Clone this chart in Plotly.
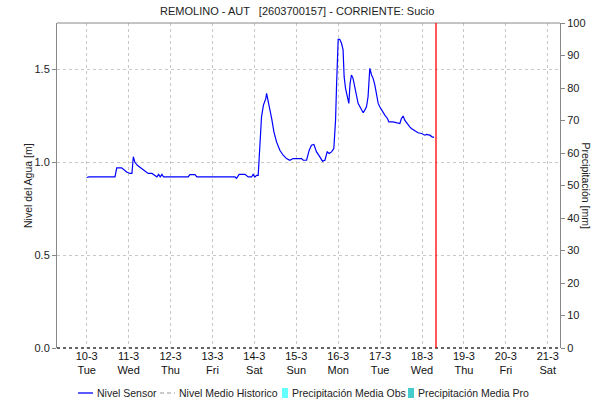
import pandas as pd
import plotly.graph_objects as go

# ---- data ----
title = "REMOLINO - AUT   [2603700157] - CORRIENTE: Sucio"
start = "2020-03-10 00:00"
# hours since 10-3 00:00
sensor_hours = [0, 1.3, 16.2, 17.2, 20, 22.9, 24.8, 25.9, 26.7, 27.6, 29, 31.5, 33.4, 35.2, 37.4,
                39.1, 40.2, 41.2, 42.1, 43.1, 44, 44.8, 58.1, 59.1, 62, 63.1, 84.9, 85.8, 87.3,
                90.6, 91.6, 92.5, 94.4, 95.3, 96.3, 97.3, 98.2, 99.3, 100.1, 101.2, 102.6, 103,
                104.5, 105.9, 107.2, 108.7, 110.6, 112.5, 114.4, 116.3, 118.2, 123, 124, 125.9,
                127.4, 128.7, 130.1, 131.6, 133.5, 135, 136.4, 137.7, 138.8, 140.2, 141.5, 142.5,
                143.1, 143.6, 144, 144.9, 145.9, 146.8, 147.4, 148.2, 149.3, 150.1, 150.8, 151.6,
                152.5, 153.5, 154.5, 155.4, 157, 158.3, 159.2, 160.2, 161.1, 161.5, 162.1, 163.1,
                164, 165, 165.9, 166.9, 167.8, 168.8, 170.7, 172.2, 173, 175.4, 177.4, 179.3,
                180.2, 181.2, 182.1, 183.1, 184, 185, 185.9, 187.9, 189.7, 191.7, 193.6, 194.5,
                196.4, 197.8, 198.9]
sensor_level = [0.918, 0.921, 0.921, 0.97, 0.97, 0.948, 0.94, 0.94, 1.03, 1.0, 0.984, 0.967, 0.957,
                0.94, 0.94, 0.93, 0.921, 0.935, 0.921, 0.935, 0.921, 0.921, 0.921, 0.934, 0.934,
                0.921, 0.921, 0.913, 0.935, 0.935, 0.928, 0.921, 0.921, 0.935, 0.921, 0.93, 0.93,
                1.092, 1.245, 1.308, 1.344, 1.371, 1.308, 1.236, 1.164, 1.11, 1.065, 1.038, 1.02,
                1.011, 1.02, 1.02, 1.011, 1.011, 1.065, 1.092, 1.096, 1.056, 1.029, 1.006, 1.011,
                1.056, 1.047, 1.056, 1.074, 1.227, 1.425, 1.587, 1.662, 1.662, 1.641, 1.605,
                1.461, 1.398, 1.353, 1.317, 1.425, 1.47, 1.452, 1.407, 1.353, 1.317, 1.29, 1.267,
                1.281, 1.299, 1.353, 1.452, 1.506, 1.47, 1.452, 1.416, 1.371, 1.317, 1.299, 1.281,
                1.254, 1.236, 1.218, 1.218, 1.213, 1.209, 1.236, 1.249, 1.227, 1.213, 1.2, 1.191,
                1.182, 1.169, 1.159, 1.155, 1.146, 1.15, 1.146, 1.137, 1.134]
now_hour = 200
range_hours = [-17, 271]
tick_dates = ["2020-03-%02d" % d for d in range(10, 22)]
tick_labels = ["10-3<br>Tue", "11-3<br>Wed", "12-3<br>Thu", "13-3<br>Fri", "14-3<br>Sat",
               "15-3<br>Sun", "16-3<br>Mon", "17-3<br>Tue", "18-3<br>Wed", "19-3<br>Thu",
               "20-3<br>Fri", "21-3<br>Sat"]
left_ticks = [0, 0.5, 1.0, 1.5]
right_ticks = list(range(0, 101, 10))
legend_names = ["Nivel Sensor", "Nivel Medio Historico",
                "Precipitación Media Obs", "Precipitación Media Pro"]
legend_colors = ["#0000FF", "#BBBBBB", "#66FFFF", "#44CCCC"]

t0 = pd.Timestamp(start)
sensor_time = [t0 + pd.Timedelta(hours=h) for h in sensor_hours]
now_time = t0 + pd.Timedelta(hours=now_hour)
xr = [t0 + pd.Timedelta(hours=h) for h in range_hours]

FONT = "Liberation Sans, Arial, sans-serif"
NARROW = "Liberation Sans Narrow, Arial Narrow, Liberation Sans, sans-serif"
W, H = 598, 402
ML, MR, MT, MB = 57, 38, 23, 54
PW, PH = W - ML - MR, H - MT - MB

def px(x):
    return (x - ML) / PW

def py(y):
    return (H - MB - y) / PH

fig = go.Figure()
fig.add_trace(go.Scatter(x=sensor_time, y=sensor_level, mode="lines", name=legend_names[0],
                         line=dict(color=legend_colors[0], width=1.2), showlegend=False))

shapes = [
    dict(type="line", xref="paper", yref="paper", x0=0, x1=1, y0=1, y1=1,
         line=dict(color="#888888", width=1)),
    dict(type="line", xref="paper", yref="paper", x0=0, x1=1, y0=0, y1=0,
         line=dict(color="#333333", width=1.5, dash="dot")),
    dict(type="line", xref="x", yref="paper", x0=now_time, x1=now_time, y0=0, y1=1,
         line=dict(color="#FF0000", width=1.3)),
]
annotations = [
    dict(text="Nivel del Agua [m]", xref="paper", yref="paper", x=px(27.5), y=0.5,
         textangle=-90, showarrow=False, font=dict(size=10.5, color="#222222"),
         xanchor="center", yanchor="middle"),
    dict(text="Precipitación [mm]", xref="paper", yref="paper", x=px(586), y=0.5,
         textangle=90, showarrow=False, font=dict(size=10.5, color="#222222"),
         xanchor="center", yanchor="middle"),
]

# legend drawn manually (row at bottom)
LY = 393
sym_x = [78, 160, 282, 408]
txt_x = [95, 177, 290, 416]
for i, name in enumerate(legend_names):
    if i < 2:
        shapes.append(dict(type="line", xref="paper", yref="paper",
                           x0=px(sym_x[i]), x1=px(sym_x[i] + 15), y0=py(LY), y1=py(LY),
                           line=dict(color=legend_colors[i], width=1.3,
                                     dash="solid" if i == 0 else "4px,3px")))
    else:
        shapes.append(dict(type="rect", xref="paper", yref="paper",
                           x0=px(sym_x[i]), x1=px(sym_x[i] + 6), y0=py(LY - 5), y1=py(LY + 5),
                           line=dict(width=0), fillcolor=legend_colors[i]))
    annotations.append(dict(text=name, xref="paper", yref="paper", x=px(txt_x[i]), y=py(LY),
                            xanchor="left", yanchor="middle", showarrow=False,
                            font=dict(size=10.5, color="#222222")))

fig.update_layout(
    width=W, height=H,
    margin=dict(l=ML, r=MR, t=MT, b=MB, autoexpand=False),
    paper_bgcolor="white", plot_bgcolor="white",
    font=dict(family=FONT, size=11, color="#222222"),
    title=dict(text=title, x=px(307), xanchor="center", y=1 - 11 / H, yanchor="middle",
               font=dict(size=11, color="#222222")),
    showlegend=False,
    xaxis=dict(type="date", range=xr, tickvals=tick_dates, ticktext=tick_labels,
               showgrid=True, gridcolor="#C8C8C8", griddash="dot", gridwidth=1,
               showline=False, ticks="", zeroline=False,
               tickfont=dict(family=NARROW, size=11, color="#111111")),
    yaxis=dict(range=[0, 1.75], tickvals=left_ticks, tickformat=".1f",
               showgrid=True, gridcolor="#C8C8C8", griddash="3px,3px", gridwidth=1,
               showline=True, linecolor="#888888", linewidth=1, ticks="outside",
               ticklen=4, tickcolor="#888888", zeroline=False,
               tickfont=dict(family=NARROW, size=11, color="#222222")),
    yaxis2=dict(range=[0, 100], tickvals=right_ticks, overlaying="y", side="right",
                showgrid=False, showline=True, linecolor="#888888", linewidth=1,
                ticks="outside", ticklen=4, tickcolor="#888888", zeroline=False,
                tickfont=dict(family=NARROW, size=11, color="#222222")),
    shapes=shapes,
    annotations=annotations,
)
fig.add_trace(go.Bar(x=[None], y=[None], name=legend_names[2], yaxis="y2", showlegend=False,
                     marker=dict(color=legend_colors[2])))

fig.write_html("out.html", config={"displayModeBar": False},
               post_script="document.body.style.margin='0';")
